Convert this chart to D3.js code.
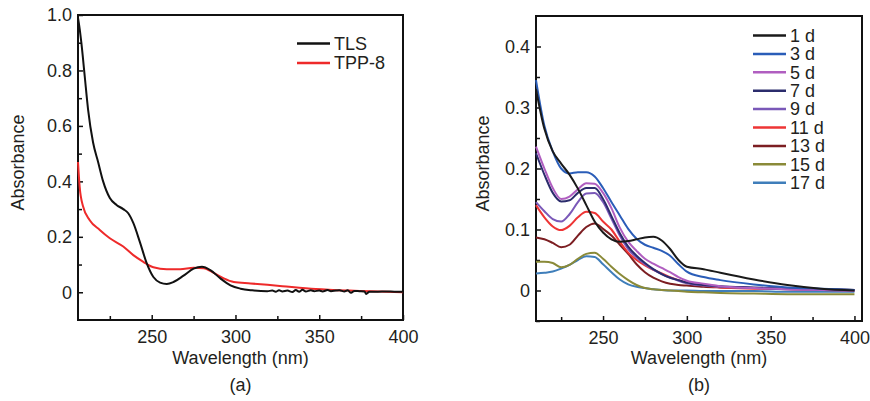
<!DOCTYPE html>
<html>
<head>
<meta charset="utf-8">
<script src="https://cdn.jsdelivr.net/npm/d3@7"></script>
<style>
  body { margin: 0; background: #fff; }
  text { font-family: "Liberation Sans", Arial, sans-serif; fill: #231f20; }
</style>
</head>
<body>
<svg id="chart"></svg>
<script>
// ---- panel (a) data ----
let tlsWl  = [206, 207, 208, 210, 212, 215, 218, 221, 225, 229, 233, 236, 239, 243, 247, 251, 255, 259, 263, 269, 275, 280, 285, 291, 297, 303, 310,
              319, 322, 324, 326, 328, 331, 334, 336, 338, 340, 342, 345, 347, 350, 352, 355, 357, 360, 362, 365, 367, 369, 371, 374, 377, 378, 380, 385, 390, 395, 400];
let tlsAbs = [0.99, 0.95, 0.90, 0.78, 0.66, 0.54, 0.47, 0.40, 0.34, 0.315, 0.30, 0.285, 0.25, 0.18, 0.105, 0.055, 0.035, 0.03, 0.037, 0.06, 0.085, 0.092, 0.08, 0.05, 0.025, 0.013, 0.007,
              0.004, 0.006, 0.002, 0.007, 0.003, 0.006, 0.001, 0.008, 0.002, 0.009, 0.003, 0.007, 0.004, 0.006, 0.003, 0.008, 0.004, 0.006, 0.007, 0.003, 0.007, -0.002, 0.005, 0.004, 0.003, -0.006, 0.002, 0.002, 0.003, 0.002, 0.002];

let tppWl  = [206, 207, 209, 213, 219, 225, 233, 239, 245, 251, 259, 267, 275, 281, 287, 293, 299, 309, 328, 348, 368, 400];
let tppAbs = [0.47, 0.38, 0.31, 0.26, 0.225, 0.195, 0.165, 0.134, 0.11, 0.09, 0.083, 0.083, 0.088, 0.087, 0.07, 0.05, 0.037, 0.032, 0.022, 0.012, 0.006, 0.0];

// ---- panel (b) data ----
let wlB = [210, 215, 220, 225, 230, 235, 240, 245, 250, 255, 260, 265, 270, 275, 280, 285, 290, 295, 300, 310, 320, 340, 360, 380, 400];
let d1  = [0.33, 0.265, 0.228, 0.208, 0.19, 0.167, 0.14, 0.113, 0.095, 0.084, 0.08, 0.081, 0.084, 0.087, 0.088, 0.082, 0.068, 0.05, 0.039, 0.035, 0.029, 0.018, 0.009, 0.003, 0.0];
let d3s = [0.345, 0.27, 0.228, 0.2, 0.192, 0.194, 0.194, 0.187, 0.168, 0.145, 0.123, 0.101, 0.085, 0.075, 0.07, 0.065, 0.057, 0.043, 0.031, 0.022, 0.017, 0.010, 0.005, 0.003, 0.001];
let d5  = [0.236, 0.2, 0.168, 0.15, 0.154, 0.166, 0.176, 0.175, 0.16, 0.135, 0.103, 0.08, 0.065, 0.052, 0.044, 0.037, 0.03, 0.022, 0.016, 0.011, 0.007, 0.004, 0.002, 0.001, 0.0];
let d7  = [0.225, 0.19, 0.16, 0.146, 0.148, 0.16, 0.168, 0.168, 0.15, 0.122, 0.094, 0.072, 0.057, 0.045, 0.035, 0.027, 0.021, 0.017, 0.013, 0.009, 0.007, 0.005, 0.003, 0.002, 0.001];
let d9  = [0.145, 0.13, 0.117, 0.113, 0.125, 0.145, 0.159, 0.16, 0.145, 0.118, 0.09, 0.068, 0.054, 0.043, 0.034, 0.027, 0.021, 0.016, 0.012, 0.008, 0.006, 0.004, 0.002, 0.001, 0.0];
let d11 = [0.14, 0.12, 0.105, 0.099, 0.106, 0.12, 0.129, 0.127, 0.113, 0.1, 0.08, 0.062, 0.05, 0.041, 0.034, 0.028, 0.022, 0.017, 0.013, 0.008, 0.005, 0.003, 0.002, 0.001, 0.0];
let d13 = [0.087, 0.084, 0.078, 0.071, 0.075, 0.09, 0.104, 0.11, 0.101, 0.09, 0.075, 0.06, 0.043, 0.03, 0.021, 0.015, 0.011, 0.009, 0.008, 0.006, 0.005, 0.004, 0.003, 0.002, 0.001];
let d15 = [0.047, 0.047, 0.045, 0.038, 0.042, 0.052, 0.06, 0.062, 0.052, 0.039, 0.027, 0.017, 0.009, 0.004, 0.002, 0.001, 0.0, -0.001, -0.002, -0.003, -0.004, -0.005, -0.006, -0.006, -0.006];
let d17 = [0.028, 0.029, 0.031, 0.036, 0.042, 0.05, 0.056, 0.055, 0.043, 0.03, 0.018, 0.01, 0.006, 0.004, 0.002, 0.001, 0.0, 0.0, 0.0, -0.001, -0.001, -0.001, -0.002, -0.002, -0.002];

let namesB  = ["1 d", "3 d", "5 d", "7 d", "9 d", "11 d", "13 d", "15 d", "17 d"];
let seriesB = [d1, d3s, d5, d7, d9, d11, d13, d15, d17];
let colorsB = ["#1a1a1a", "#2a5db8", "#b05ec0", "#2b2c6c", "#7a58b8", "#ee3535", "#7c1e22", "#8a8a38", "#3f7eba"];

let xTicks = [250, 300, 350, 400];
let xMinor = [225, 275, 325, 375];

let svg = d3.select("#chart").attr("width", 870).attr("height", 401);
svg.append("rect").attr("width", 870).attr("height", 401).attr("fill", "#fff");

let fmt = (d) => d === 0 ? "0" : d3.format(".1f")(d);

let drawFrame = (x, y, yTicks, yMinor, label, titleX) => {
  let g = svg.append("g");
  let [x0, x1] = x.range();
  let [yb, yt] = y.range();

  g.append("g")
    .attr("transform", `translate(0,${yb})`)
    .call(d3.axisBottom(x).tickValues(xTicks).tickSizeInner(-5).tickSizeOuter(0).tickPadding(10).tickFormat(d3.format("d")))
    .call(a => a.select(".domain").remove());
  g.append("g")
    .attr("transform", `translate(0,${yb})`)
    .call(d3.axisBottom(x).tickValues(xMinor).tickSizeInner(-4).tickSizeOuter(0).tickFormat(""))
    .call(a => a.select(".domain").remove());
  g.append("g")
    .attr("transform", `translate(${x0},0)`)
    .call(d3.axisLeft(y).tickValues(yTicks).tickSizeInner(-5).tickSizeOuter(0).tickPadding(6).tickFormat(fmt))
    .call(a => a.select(".domain").remove());
  g.append("g")
    .attr("transform", `translate(${x0},0)`)
    .call(d3.axisLeft(y).tickValues(yMinor).tickSizeInner(-4).tickSizeOuter(0).tickFormat(""))
    .call(a => a.select(".domain").remove());

  g.selectAll(".tick line").attr("stroke", "#111").attr("stroke-width", 1.5);
  g.selectAll(".tick text").attr("font-size", 18).attr("fill", "#231f20")
    .style("font-family", '"Liberation Sans", Arial, sans-serif');

  g.append("rect")
    .attr("x", x0).attr("y", yt)
    .attr("width", x1 - x0).attr("height", yb - yt)
    .attr("fill", "none").attr("stroke", "#111").attr("stroke-width", 2);

  g.append("text")
    .attr("transform", `translate(${titleX},${(yb + yt) / 2 - 5}) rotate(-90)`)
    .attr("text-anchor", "middle").attr("dy", "0.35em")
    .attr("font-size", 18).text("Absorbance");
  g.append("text")
    .attr("x", (x0 + x1) / 2).attr("y", 364)
    .attr("text-anchor", "middle").attr("font-size", 18)
    .text("Wavelength (nm)");
  g.append("text")
    .attr("x", (x0 + x1) / 2).attr("y", 391)
    .attr("text-anchor", "middle").attr("font-size", 18)
    .text(label);
};

let drawLine = (x, y, wl, vals, color) => {
  let line = d3.line()
    .x((d, i) => x(wl[i]))
    .y((d) => y(d))
    .curve(d3.curveMonotoneX);
  svg.append("path")
    .datum(vals)
    .attr("d", line)
    .attr("fill", "none")
    .attr("stroke", color)
    .attr("stroke-width", 2)
    .attr("stroke-linejoin", "round");
};

let drawLegend = (names, colors, lx, ly, step) => {
  let lg = svg.append("g");
  names.forEach((n, i) => {
    lg.append("line")
      .attr("x1", lx).attr("x2", lx + 33)
      .attr("y1", ly + i * step).attr("y2", ly + i * step)
      .attr("stroke", colors[i]).attr("stroke-width", 2.5);
    lg.append("text")
      .attr("x", lx + 37).attr("y", ly + i * step)
      .attr("dy", "0.35em").attr("font-size", 18)
      .text(n);
  });
};

// ---- panel (a) ----
let xa = d3.scaleLinear().domain([206, 400]).range([78, 403]);
let ya = d3.scaleLinear().domain([-0.1, 1.0]).range([320, 15]);
drawFrame(xa, ya, [0, 0.2, 0.4, 0.6, 0.8, 1.0], [0.1, 0.3, 0.5, 0.7, 0.9], "(a)", 18);
drawLine(xa, ya, tppWl, tppAbs, "#ee2a2a");
drawLine(xa, ya, tlsWl, tlsAbs, "#111");
drawLegend(["TLS", "TPP-8"], ["#111", "#ee2a2a"], 297, 43.5, 19.5);

// ---- panel (b) ----
let xb = d3.scaleLinear().domain([210, 404.5]).range([536, 862]);
let yb = d3.scaleLinear().domain([-0.05, 0.45]).range([321, 16]);
drawFrame(xb, yb, [0, 0.1, 0.2, 0.3, 0.4], [-0.05, 0.05, 0.15, 0.25, 0.35], "(b)", 483);
seriesB.slice().reverse().forEach((s, i) => {
  let k = seriesB.length - 1 - i;
  drawLine(xb, yb, wlB, s, colorsB[k]);
});
drawLegend(namesB, colorsB, 753, 35.5, 18.4);
</script>
</body>
</html>
